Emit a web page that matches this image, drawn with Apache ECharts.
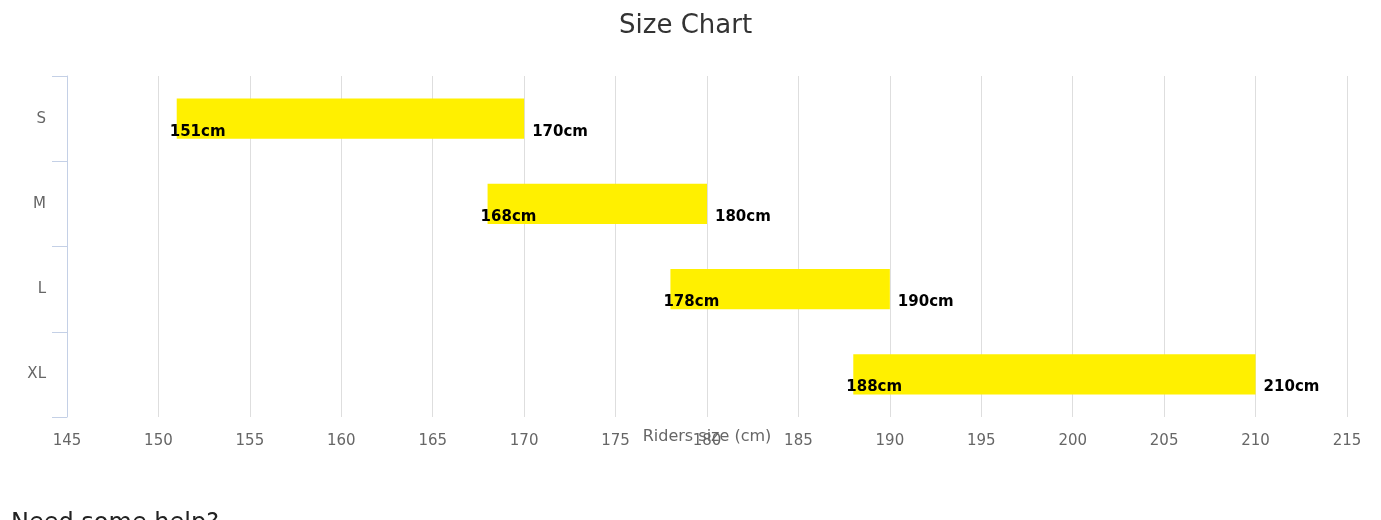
<!DOCTYPE html>
<html>
<head>
<meta charset="utf-8">
<script src="https://cdn.jsdelivr.net/npm/echarts@6/dist/echarts.min.js"></script>
<style>
html,body{margin:0;padding:0;background:#fff;}
#chart{width:1381px;height:520px;}
</style>
</head>
<body>
<div id="chart"></div>
<script>
const categories = ['S', 'M', 'L', 'XL'];
const lowValues = [151, 168, 178, 188];
const highValues = [170, 180, 190, 210];
const xTicks = { min: 145, max: 215, interval: 5 };

const seriesData = categories.map((c, i) => [i, lowValues[i], highValues[i]]);

const chart = echarts.init(document.getElementById('chart'));
const labelFont = 'bold 15px "DejaVu Sans", Verdana, sans-serif';

chart.setOption({
  animation: false,
  title: {
    text: 'Size Chart',
    left: 614,
    top: 8,
    textStyle: { fontFamily: '"DejaVu Sans", sans-serif', fontSize: 26, fontWeight: 'normal', color: '#333333' }
  },
  grid: { left: 67, right: 34, top: 76, bottom: 103, containLabel: false },
  xAxis: {
    type: 'value',
    min: xTicks.min,
    max: xTicks.max,
    interval: xTicks.interval,
    name: 'Riders size (cm)',
    nameLocation: 'middle',
    nameGap: 12,
    nameMoveOverlap: false,
    nameTextStyle: { color: '#666666', fontSize: 16, fontFamily: '"DejaVu Sans", sans-serif' },
    axisLine: { show: false },
    axisTick: { show: false },
    axisLabel: { color: '#666666', fontSize: 15, fontFamily: '"DejaVu Sans", sans-serif', margin: 17 },
    splitLine: { show: true, lineStyle: { color: '#dedede', width: 1 } }
  },
  yAxis: {
    type: 'category',
    data: categories,
    inverse: true,
    axisLine: { show: true, lineStyle: { color: '#c4d0e6', width: 1 } },
    axisTick: { show: true, length: 15, lineStyle: { color: '#c4d0e6' } },
    axisLabel: { color: '#666666', fontSize: 15, fontFamily: '"DejaVu Sans", sans-serif', margin: 21 },
    splitLine: { show: false }
  },
  graphic: [{
    type: 'text',
    left: 11,
    top: 512,
    style: { text: 'Need some help?', fill: '#222222', font: '24px "DejaVu Sans", sans-serif' }
  }],
  series: [{
    type: 'custom',
    data: seriesData,
    encode: { y: 0, x: [1, 2] },
    renderItem: function (params, api) {
      const idx = api.value(0);
      const low = api.value(1);
      const high = api.value(2);
      const s = api.coord([low, idx]);
      const e = api.coord([high, idx]);
      const h = api.size([0, 1])[1] * 0.47;
      return {
        type: 'group',
        children: [
          {
            type: 'rect',
            shape: { x: s[0], y: s[1] - h / 2, width: e[0] - s[0], height: h },
            style: { fill: '#fff000' }
          },
          {
            type: 'text',
            x: s[0] - 7,
            y: s[1] + 13,
            style: { text: low + 'cm', fill: '#000000', font: labelFont, align: 'left', verticalAlign: 'middle' }
          },
          {
            type: 'text',
            x: e[0] + 8,
            y: s[1] + 13,
            style: { text: high + 'cm', fill: '#000000', font: labelFont, align: 'left', verticalAlign: 'middle' }
          }
        ]
      };
    }
  }]
});
</script>
</body>
</html>
